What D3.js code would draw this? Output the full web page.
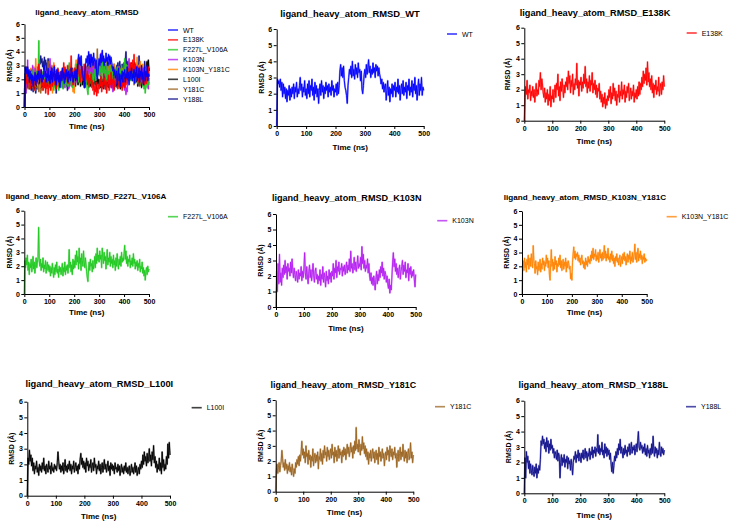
<!DOCTYPE html>
<html><head><meta charset="utf-8">
<script src="https://cdn.jsdelivr.net/npm/d3@7"></script>
<style>
html,body{margin:0;padding:0;background:#fff;}
svg{display:block;font-family:"Liberation Sans",Arial,sans-serif;}
</style></head>
<body><svg id="c" width="731" height="528"></svg>
<script>
// ---------- DATA ----------
const variants = ["WT","E138K","F227L_V106A","K103N","K103N_Y181C","L100I","Y181C","Y188L"];
const colors = ["#0000ff","#ff0000","#1ec81e","#b41ef0","#ff8200","#000000","#9b6420","#10108c"];
const xTicks = [0,100,200,300,400,500];
const yTicks = [0,1,2,3,4,5,6];
const timeMax = 500;

const WT = [0,2.9,2.6,2.8,2.4,2.9,2.2,2.7,1.8,2.6,2.0,2.4,1.7,2.3,1.5,2.2,1.9,2.5,1.6,2.3,
1.8,2.4,2.0,2.6,1.7,2.4,2.1,2.7,1.8,2.3,2.0,2.5,3.0,2.2,2.6,1.8,2.4,2.1,2.8,1.9,
2.3,1.7,2.6,2.0,2.8,1.8,2.5,2.2,2.9,1.9,2.4,1.6,2.7,2.0,2.5,1.8,2.3,1.4,2.2,2.6,
1.9,2.8,2.1,2.5,1.7,2.4,2.0,2.7,2.2,2.5,1.8,2.6,2.1,2.4,1.9,2.8,2.2,2.5,1.8,2.3,
2.1,2.6,1.9,2.7,2.0,2.5,3.4,3.8,3.1,3.6,3.0,3.7,2.8,2.4,2.2,1.9,1.4,2.5,3.0,3.5,
3.2,3.7,3.0,4.0,3.1,3.5,2.9,3.8,3.2,3.6,3.0,3.9,3.3,3.5,2.8,3.4,2.3,2.0,2.5,3.2,
3.5,3.0,3.8,3.2,3.6,4.1,3.3,3.7,3.0,3.5,3.2,3.9,3.3,3.6,3.0,3.8,3.4,3.7,3.1,3.6,
3.2,3.0,2.6,2.9,2.3,2.7,2.1,2.5,2.6,1.6,2.2,2.8,1.9,2.4,1.5,2.3,2.0,2.6,1.8,2.5,
2.2,2.7,1.8,2.4,2.1,2.9,2.0,2.5,1.6,2.3,2.6,2.0,2.8,1.9,2.4,2.1,2.7,1.7,2.5,2.2,
2.9,1.9,2.4,2.1,2.8,1.8,2.6,2.2,3.0,2.0,2.5,1.6,2.3,2.9,1.9,2.6,2.2,3.0,1.9,2.4,2.2];

const E138K = [0,1.5,2.2,1.7,2.6,1.4,2.0,1.8,2.3,1.3,1.9,1.6,2.2,1.5,2.0,1.2,1.8,2.4,1.6,2.0,
1.7,2.6,2.2,3.1,2.0,2.7,2.3,1.8,1.5,2.1,1.2,1.8,1.4,2.0,1.0,1.7,1.3,2.2,0.9,1.6,
1.4,2.0,1.2,1.8,2.3,1.5,2.4,2.0,3.0,1.6,2.2,1.3,2.5,1.9,2.7,2.1,1.5,2.3,1.8,2.5,
2.2,2.8,2.0,3.2,2.4,2.9,1.8,2.6,2.2,3.0,1.7,2.4,2.0,2.7,2.3,3.7,2.1,2.6,1.6,2.5,
2.3,2.8,1.9,2.5,2.1,3.0,2.4,3.5,2.2,2.7,1.8,2.5,2.1,2.9,1.9,2.6,2.3,3.1,1.8,2.4,
2.0,2.6,1.7,2.3,1.5,2.1,1.9,2.4,1.4,1.9,1.2,1.7,0.9,1.5,1.1,1.8,0.8,1.4,1.0,1.6,
1.3,2.0,1.5,2.2,1.1,1.8,1.4,2.4,1.6,2.1,1.3,1.9,1.0,1.7,1.5,2.3,1.2,1.9,1.6,2.5,
1.4,2.0,1.7,2.3,1.2,1.9,1.5,2.2,1.8,2.4,1.3,1.7,2.1,1.4,1.9,1.6,2.3,1.2,1.8,1.5,
2.0,1.4,2.2,1.6,2.5,1.7,2.4,2.0,2.8,2.2,3.2,2.4,3.0,2.6,3.4,2.3,3.8,2.5,3.1,2.2,
2.7,2.0,2.9,1.8,2.4,1.5,2.3,2.0,2.6,1.7,2.2,1.9,2.8,1.6,2.1,2.4,1.7,2.5,2.0,2.9,2.2];

const F227L_V106A = [0,2.4,1.9,2.6,2.1,2.8,1.7,2.3,1.4,2.2,1.9,2.5,1.6,2.0,2.7,1.8,2.3,1.5,2.1,2.6,
1.9,2.3,2.6,4.8,2.4,2.0,2.5,1.7,2.2,1.9,2.6,1.6,2.1,1.8,2.4,1.5,2.0,2.3,1.7,2.1,
1.6,2.0,1.3,1.9,1.5,2.2,1.7,1.2,1.9,1.4,2.1,1.6,2.3,1.5,1.8,1.2,2.0,1.6,1.9,1.4,
1.8,2.2,1.3,1.9,1.6,2.3,1.4,2.0,1.7,2.1,1.5,2.1,3.2,1.9,2.3,1.6,2.1,1.4,2.5,1.8,
2.4,1.9,2.8,2.1,3.1,2.3,2.7,1.8,3.3,2.2,2.6,1.7,2.9,2.4,2.0,3.1,2.3,1.9,2.6,2.1,
1.6,1.2,0.9,1.8,2.3,1.7,2.5,2.0,2.2,1.6,2.4,1.8,2.1,2.7,1.9,2.9,2.2,3.3,2.4,2.8,
2.3,3.1,2.5,2.8,1.9,3.3,2.6,2.2,3.0,2.4,2.7,1.8,2.5,3.2,2.1,2.6,2.3,3.0,2.0,2.7,
2.2,2.5,1.9,2.8,2.1,2.4,1.7,2.6,2.0,2.9,2.2,1.8,2.5,2.1,2.7,2.0,3.0,2.3,2.6,2.4,
2.9,3.5,2.5,3.1,2.2,2.7,2.0,2.5,2.3,2.8,1.9,2.4,2.1,2.6,2.0,2.9,2.2,2.5,1.8,2.3,
2.0,2.4,1.7,2.2,1.9,2.5,1.6,2.0,1.8,2.3,1.5,1.9,1.3,1.7,1.0,1.6,1.9,1.4,2.0,1.6,1.8];

const K103N = [0,2.3,1.0,2.8,1.5,3.4,1.6,2.2,1.4,2.5,1.9,2.7,2.1,3.0,2.2,2.6,1.8,2.8,2.3,2.5,
2.0,2.9,2.2,3.1,2.4,1.9,2.5,2.1,1.7,2.3,2.0,1.6,2.4,1.8,2.2,2.0,2.6,1.7,2.3,1.9,
2.5,3.5,2.2,1.8,2.6,2.0,1.5,2.3,2.7,1.9,2.4,1.7,2.2,2.8,2.0,1.6,2.3,2.5,1.8,2.1,
1.5,2.0,1.7,2.4,1.4,2.1,1.8,2.6,1.6,2.2,1.9,1.3,2.3,1.7,2.0,1.5,2.4,1.8,2.2,1.6,
2.3,2.0,2.8,1.8,2.5,2.2,3.0,1.9,2.6,2.3,2.9,2.1,2.5,2.4,2.8,2.0,2.6,2.3,2.7,2.1,
2.5,2.9,2.2,2.7,2.4,3.1,2.3,3.6,2.5,2.8,2.2,2.6,3.2,2.4,2.9,2.3,2.7,3.3,2.5,2.8,
2.6,3.2,2.4,3.9,2.8,3.4,2.5,3.0,2.3,2.7,2.5,3.1,2.2,2.8,2.0,1.7,2.2,1.5,1.9,1.4,
2.0,1.6,1.1,1.8,2.3,1.5,2.1,1.7,2.4,1.9,2.6,2.2,2.9,2.0,2.5,1.8,2.3,2.1,1.6,2.0,
1.5,1.2,1.8,0.9,1.4,1.1,2.0,2.9,3.5,2.6,3.1,2.3,2.8,2.1,2.5,1.9,2.4,2.7,1.8,2.3,
2.6,3.0,2.1,2.7,2.3,2.9,1.9,2.4,2.2,2.8,1.7,2.5,2.1,2.6,1.9,2.3,2.0,2.4,1.8,1.3,2.1];

const K103N_Y181C = [0,2.0,2.4,1.7,2.6,1.9,2.3,1.6,2.5,2.1,2.8,1.8,2.2,2.6,2.0,2.9,2.3,1.9,3.5,2.4,
2.2,1.5,2.4,1.8,2.0,1.4,2.3,1.7,1.9,2.5,1.6,2.2,1.8,2.6,2.1,2.4,1.7,2.3,2.0,2.8,
2.2,2.6,1.9,2.4,1.4,1.0,2.2,3.2,2.0,2.5,1.7,2.3,1.8,2.7,2.1,2.4,1.6,2.2,2.0,2.6,
2.1,2.8,1.9,2.4,1.7,2.2,2.5,1.8,2.3,2.0,2.6,1.6,2.3,1.9,2.4,2.2,1.8,2.0,1.1,1.5,
1.0,2.3,2.9,3.4,2.6,3.1,2.5,2.9,2.7,3.0,2.4,2.8,2.3,2.6,2.1,2.5,2.8,2.2,2.4,1.9,
2.3,1.8,2.6,2.1,2.4,2.0,2.7,2.3,2.5,2.2,2.8,2.4,3.1,2.6,3.3,2.5,2.9,2.7,3.2,2.4,
2.8,2.5,3.0,2.3,2.7,3.2,2.6,2.9,2.4,3.0,2.5,2.8,3.5,2.6,3.1,2.4,2.9,2.6,3.3,2.5,
2.7,2.3,2.9,2.5,3.1,2.4,2.8,2.2,2.6,2.0,2.7,2.4,2.9,2.3,2.6,2.1,2.5,2.8,2.0,2.4,
2.7,2.2,2.9,2.5,3.0,2.4,2.7,2.1,2.6,2.9,2.3,2.8,2.5,3.1,2.2,2.7,2.4,3.0,2.3,2.6,
2.9,3.6,2.5,3.0,2.3,2.8,3.3,2.4,2.9,2.6,3.1,2.5,2.8,2.2,2.7,2.5,2.9,2.3,2.6,2.4,2.5];

const L100I = [0,2.4,2.0,2.9,2.2,2.6,1.9,2.4,1.6,2.1,1.4,1.9,1.7,2.2,1.5,1.8,1.3,2.0,1.6,1.9,
1.5,2.1,1.7,2.4,1.6,1.9,1.4,2.0,1.8,1.5,2.2,1.7,1.9,1.4,2.1,1.6,1.8,1.5,2.0,1.7,
1.9,1.6,2.1,2.8,2.2,1.7,2.0,1.5,1.9,1.6,2.1,1.4,1.8,2.3,1.6,1.9,1.5,2.0,1.7,2.2,
1.6,2.0,1.4,1.9,1.7,2.2,1.5,1.8,2.1,1.6,1.9,1.4,2.0,1.7,2.3,2.7,2.0,2.4,1.8,2.2,
1.7,2.1,1.5,2.4,1.9,2.2,1.6,2.0,1.8,2.3,1.5,1.9,2.1,1.6,2.4,1.8,2.0,1.4,1.9,1.7,
2.2,1.6,2.0,1.4,1.8,2.1,1.5,1.9,2.3,1.7,2.0,1.5,1.8,2.2,1.6,1.9,1.3,2.1,1.7,2.0,
1.6,1.9,1.4,2.1,1.7,1.8,1.5,2.0,1.6,1.9,1.3,1.7,2.0,1.5,1.8,1.4,1.9,1.6,2.1,1.5,
1.8,1.4,1.7,1.9,1.3,1.6,2.0,1.5,1.8,1.4,1.7,2.1,1.5,1.9,1.3,1.6,1.8,1.4,2.0,1.7,
2.2,1.8,2.6,2.0,2.8,2.2,2.5,1.9,2.7,2.1,2.4,3.0,2.2,2.6,1.9,2.8,2.3,3.2,2.1,2.5,
1.8,2.2,1.5,2.0,1.7,2.4,1.6,2.1,1.4,2.8,1.8,2.3,1.6,2.0,1.7,2.5,2.0,3.3,2.4,3.4,2.6];

const Y181C = [0,1.4,1.8,1.2,1.6,1.9,1.3,1.7,2.0,2.7,2.2,1.6,1.9,1.4,2.1,1.5,1.8,1.2,1.7,1.4,
1.9,1.3,1.6,1.1,1.8,1.4,1.0,1.5,1.2,1.9,1.6,2.1,1.8,2.3,1.7,2.4,2.0,2.6,3.3,2.4,
2.8,2.2,2.6,1.9,3.0,2.3,2.5,1.8,2.7,2.1,2.4,1.6,2.3,2.0,2.8,1.7,2.2,2.5,1.9,2.4,
2.0,2.6,1.5,2.3,2.1,2.8,2.0,2.5,1.8,2.7,2.2,3.0,2.4,2.6,2.0,2.9,2.3,2.7,2.1,2.5,
2.8,2.2,3.1,2.4,2.6,1.9,2.9,2.3,2.7,2.0,2.5,3.0,2.2,2.8,2.4,2.6,1.9,2.7,2.3,2.9,
2.4,2.8,2.1,2.6,3.1,2.5,2.9,2.3,2.7,3.2,2.6,2.9,2.2,3.0,2.5,3.3,2.7,4.2,2.8,3.1,
2.6,3.4,2.9,2.4,3.1,2.7,3.6,2.8,3.2,2.5,3.0,2.3,2.8,2.1,2.6,1.8,2.5,2.2,2.7,2.0,
2.5,2.8,2.2,2.6,1.9,2.4,2.7,2.1,2.5,1.8,2.9,2.3,2.6,2.0,2.4,2.8,2.2,2.5,1.7,2.3,
2.6,2.1,2.9,2.4,2.7,2.0,3.0,2.5,2.3,2.8,2.1,2.6,2.4,2.9,2.2,2.5,1.6,2.3,2.7,2.0,
2.5,2.9,2.1,2.6,2.3,3.1,2.4,2.0,2.7,2.2,2.6,1.9,2.5,2.8,2.1,2.4,3.2,2.2,2.6,1.9,2.4];

const Y188L = [0,2.3,1.0,2.7,2.0,2.4,1.6,2.1,1.3,1.9,1.5,1.2,1.8,1.4,1.1,1.7,1.3,1.9,1.0,1.6,
1.3,1.8,1.5,2.2,3.4,3.1,3.7,3.2,3.5,2.9,3.3,2.7,3.6,3.0,3.4,2.6,3.2,2.8,3.5,2.9,
3.1,2.6,2.9,2.3,2.7,2.5,2.2,2.8,2.1,2.6,2.4,1.0,2.0,2.5,1.8,2.3,2.0,2.5,1.7,2.2,
2.0,2.4,1.6,2.3,1.9,2.1,1.5,2.2,1.8,1.2,2.0,2.4,2.2,2.7,2.0,2.5,2.3,2.8,2.1,2.6,
2.4,2.0,2.6,2.3,2.8,2.2,2.5,2.9,2.3,2.7,2.1,2.6,2.4,2.9,2.2,2.7,2.5,3.0,2.3,2.8,
2.6,3.0,2.4,2.9,2.7,3.8,2.6,3.1,2.5,2.9,2.7,3.3,2.5,2.8,2.3,3.2,2.6,3.0,2.4,2.9,
2.5,2.8,2.2,2.6,1.9,1.4,2.0,1.3,1.8,2.4,2.1,2.7,2.3,2.9,2.5,3.2,2.8,3.5,2.6,3.0,
2.7,2.3,2.9,2.5,3.1,2.6,2.8,2.4,3.0,2.7,3.2,2.5,2.9,3.3,2.6,3.0,2.8,3.1,2.5,2.9,
3.2,2.7,3.4,4.0,3.0,2.8,3.3,2.9,3.1,2.6,3.0,2.7,3.2,2.5,2.9,2.4,3.1,2.6,2.8,2.3,
2.9,2.5,3.2,2.6,3.7,2.8,2.4,3.0,2.6,2.9,2.3,2.8,2.5,3.3,2.7,2.4,3.0,2.6,2.9,2.5,2.8];

const seriesValues = [WT,E138K,F227L_V106A,K103N,K103N_Y181C,L100I,Y181C,Y188L];

// ---------- LAYOUT ----------
const panels = [
 {show:[0,1,2,3,4,5,6,7], title:"ligand_heavy_atom_RMSD", tf:8.1, x0:24.5,x1:149,yT:24,yB:107,tx:87,ty:12,lx:168,ly:30,lstep:9.86,xl:126,yl:9.5},
 {show:[0], title:"ligand_heavy_atom_RMSD_WT", tf:9.4, x0:276.7,x1:423.7,yT:29,yB:126,tx:350,ty:13,lx:447,ly:34,xl:147,yl:261},
 {show:[1], title:"ligand_heavy_atom_RMSD_E138K", tf:9.2, x0:524.3,x1:664.3,yT:27.7,yB:120.7,tx:595,ty:13,lx:686.7,ly:33,xl:141.7,yl:507.5},
 {show:[2], title:"ligand_heavy_atom_RMSD_F227L_V106A", tf:8.1, x0:24.3,x1:149,yT:210.7,yB:294,tx:86,ty:196.7,lx:168,ly:216.7,xl:312.7,yl:9.5},
 {show:[3], title:"ligand_heavy_atom_RMSD_K103N", tf:9.1, x0:276,x1:415.7,yT:214,yB:307,tx:346.7,ty:198.3,lx:437.3,ly:220.7,xl:328.3,yl:260},
 {show:[4], title:"ligand_heavy_atom_RMSD_K103N_Y181C", tf:8.1, x0:522,x1:646.7,yT:211,yB:294,tx:585,ty:197.3,lx:666.7,ly:216.7,xl:312.7,yl:506.7},
 {show:[5], title:"ligand_heavy_atom_RMSD_L100I", tf:9.3, x0:27.3,x1:170,yT:401.7,yB:495.7,tx:99.3,ty:384.3,lx:191.7,ly:407.7,xl:516,yl:11},
 {show:[6], title:"ligand_heavy_atom_RMSD_Y181C", tf:8.9, x0:275.7,x1:413.3,yT:400,yB:491.7,tx:343.3,ty:385,lx:435,ly:406.7,xl:512.7,yl:260},
 {show:[7], title:"ligand_heavy_atom_RMSD_Y188L", tf:9.2, x0:524.3,x1:664.3,yT:400.7,yB:493.3,tx:593.3,ty:385,lx:686,ly:406.7,xl:515,yl:508.3}
];

const svg = d3.select("#c");

panels.forEach(p => {
  const g = svg.append("g");
  const x = d3.scaleLinear().domain([0,timeMax]).range([p.x0,p.x1]);
  const y = d3.scaleLinear().domain([0,6]).range([p.yB,p.yT]);

  const order = p.show.slice().reverse();
  order.forEach(si => {
    const vals = seriesValues[si];
    const n = vals.length;
    const line = d3.line().x((d,i)=>x(i*timeMax/(n-1))).y(d=>y(d));
    g.append("path").attr("d", line(vals)).attr("fill","none")
      .attr("stroke", colors[si]).attr("stroke-opacity",0.45).attr("stroke-width",1.8)
      .attr("stroke-linejoin","round");
    g.append("path").attr("d", line(vals)).attr("fill","none")
      .attr("stroke", colors[si]).attr("stroke-width",0.9)
      .attr("stroke-linejoin","round");
  });

  const ax = g.append("g").attr("transform",`translate(0,${p.yB})`)
    .call(d3.axisBottom(x).tickValues(xTicks).tickFormat(d3.format("d")).tickSize(3).tickSizeOuter(0).tickPadding(2));
  const ay = g.append("g").attr("transform",`translate(${p.x0},0)`)
    .call(d3.axisLeft(y).tickValues(yTicks).tickFormat(d3.format("d")).tickSize(3).tickSizeOuter(0).tickPadding(1.5));
  [ax,ay].forEach(a => {
    a.selectAll("path.domain").attr("stroke","#000").attr("stroke-width",1);
    a.selectAll(".tick line").attr("stroke","#000").attr("stroke-width",1);
    a.selectAll(".tick text").attr("fill","#000").attr("font-size",7).attr("font-weight","bold")
      .attr("font-family",'"Liberation Sans",Arial,sans-serif');
  });

  g.append("text").attr("x",p.tx).attr("y",p.ty).attr("text-anchor","middle")
    .attr("dominant-baseline","central").attr("font-size",p.tf).attr("font-weight","bold")
    .text(p.title);
  g.append("text").attr("x",(p.x0+p.x1)/2).attr("y",p.xl).attr("text-anchor","middle")
    .attr("dominant-baseline","central").attr("font-size",8).attr("font-weight","bold")
    .text("Time (ns)");
  g.append("text").attr("transform",`translate(${p.yl},${(p.yT+p.yB)/2}) rotate(-90)`)
    .attr("text-anchor","middle").attr("dominant-baseline","central")
    .attr("font-size",7).attr("font-weight","bold").text("RMSD (Å)");

  p.show.forEach((si,k) => {
    const ly = p.ly + k*(p.lstep||0);
    g.append("line").attr("x1",p.lx).attr("x2",p.lx+10).attr("y1",ly).attr("y2",ly)
      .attr("stroke",colors[si]).attr("stroke-opacity",0.5).attr("stroke-width",1.8);
    g.append("line").attr("x1",p.lx).attr("x2",p.lx+10).attr("y1",ly).attr("y2",ly)
      .attr("stroke",colors[si]).attr("stroke-width",0.6);
    g.append("text").attr("x",p.lx+15).attr("y",ly).attr("dominant-baseline","central")
      .attr("font-size",7).text(variants[si]);
  });
});
</script></body></html>
